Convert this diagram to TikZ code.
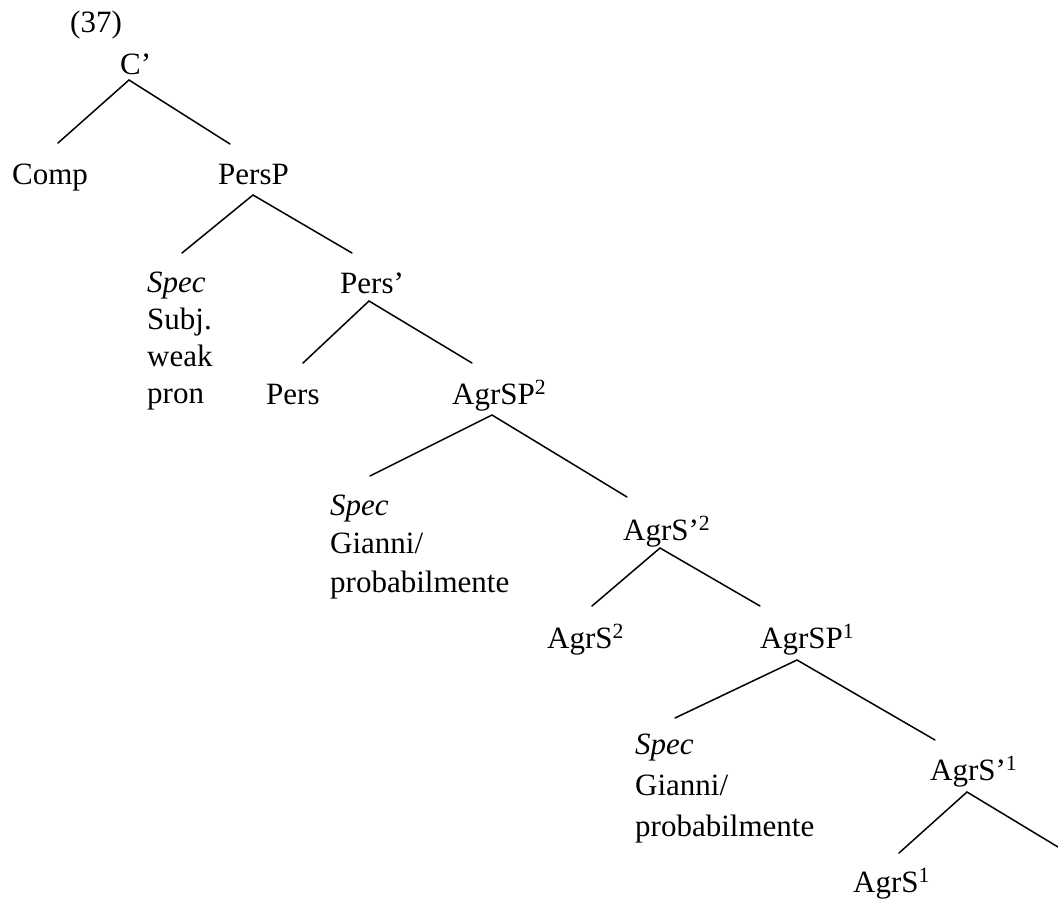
\documentclass[tikz,border=0pt]{standalone}
\usepackage{fontspec}
\setmainfont{Liberation Serif}
\begin{document}
\begin{tikzpicture}[x=1pt,y=-1pt,
  lbl/.style={anchor=base west,inner sep=0pt,font=\fontsize{31}{37}\selectfont},
  branch/.style={line width=1.5pt,line cap=round}]
\useasboundingbox (0,0) rectangle (1058,900);

% example number
\node[lbl] (num) at (70,32) {(37)};

% labels of the tree, placed by their baseline
\node[lbl] (cbar)     at (120,74)  {C’};
\node[lbl] (comp)     at (12,184)  {Comp};
\node[lbl] (persp)    at (218,184) {PersP};
\node[lbl] (specA)    at (147,292) {\textit{Spec}};
\node[lbl] (subjA)    at (147,329) {Subj.};
\node[lbl] (weakA)    at (147,366) {weak};
\node[lbl] (pronA)    at (147,403) {pron};
\node[lbl] (persbar)  at (340,293) {Pers’};
\node[lbl] (pers)     at (266,404) {Pers};
\node[lbl] (agrspB)   at (452,404) {AgrSP\textsuperscript{2}};
\node[lbl] (specB)    at (330,515) {\textit{Spec}};
\node[lbl] (gianniB)  at (330,553) {Gianni/};
\node[lbl] (probB)    at (330,592) {probabilmente};
\node[lbl] (agrsbarB) at (623,540) {AgrS’\textsuperscript{2}};
\node[lbl] (agrsB)    at (547,648) {AgrS\textsuperscript{2}};
\node[lbl] (agrspC)   at (760,648) {AgrSP\textsuperscript{1}};
\node[lbl] (specC)    at (635,754) {\textit{Spec}};
\node[lbl] (gianniC)  at (635,795) {Gianni/};
\node[lbl] (probC)    at (635,836) {probabilmente};
\node[lbl] (agrsbarC) at (930,780) {AgrS’\textsuperscript{1}};
\node[lbl] (agrsC)    at (853,892) {AgrS\textsuperscript{1}};
\coordinate (openC) at (1058,847);

% branches
\draw[branch] ([shift={(46,-41)}]comp.base west) -- ([shift={(9,6)}]cbar.base west)
              -- ([shift={(12,-40)}]persp.base west);
\draw[branch] ([shift={(35,-39)}]specA.base west) -- ([shift={(35,11)}]persp.base west)
              -- ([shift={(12,-40)}]persbar.base west);
\draw[branch] ([shift={(37,-41)}]pers.base west) -- ([shift={(29,8)}]persbar.base west)
              -- ([shift={(20,-41)}]agrspB.base west);
\draw[branch] ([shift={(40,-39)}]specB.base west) -- ([shift={(40,11)}]agrspB.base west)
              -- ([shift={(4,-43)}]agrsbarB.base west);
\draw[branch] ([shift={(45,-42)}]agrsB.base west) -- ([shift={(37,8)}]agrsbarB.base west)
              -- ([shift={(0,-42)}]agrspC.base west);
\draw[branch] ([shift={(40,-36)}]specC.base west) -- ([shift={(37,12)}]agrspC.base west)
              -- ([shift={(5,-40)}]agrsbarC.base west);
\draw[branch] ([shift={(46,-39)}]agrsC.base west) -- ([shift={(37,12)}]agrsbarC.base west)
              -- (openC);
\end{tikzpicture}
\end{document}
